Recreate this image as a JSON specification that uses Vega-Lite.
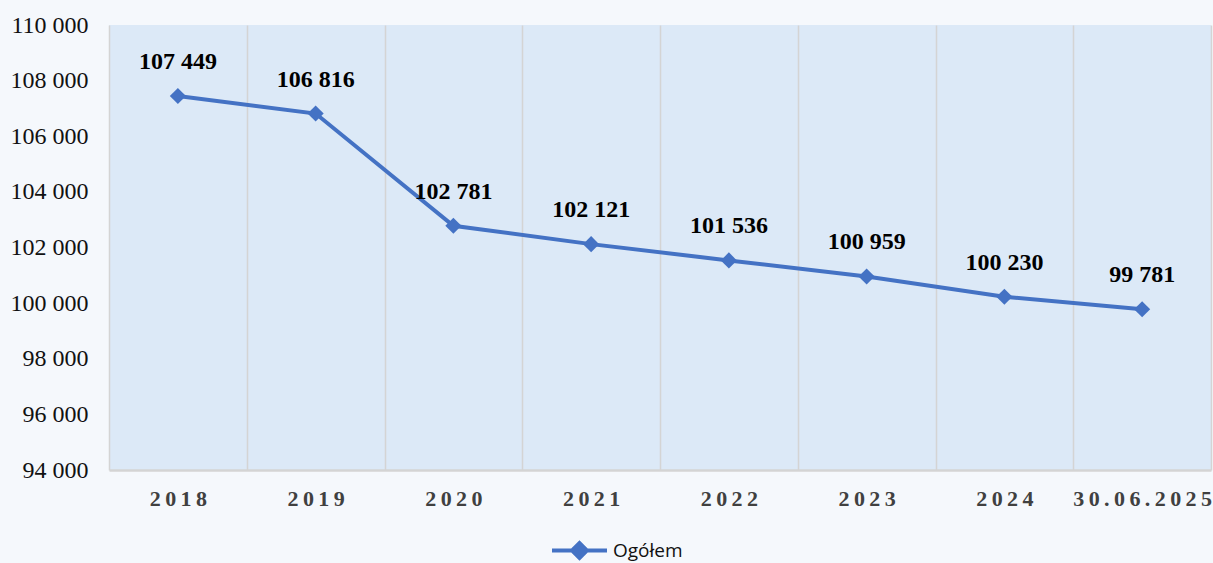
{
  "$schema": "https://vega.github.io/schema/vega-lite/v6.json",
  "width": 1102,
  "height": 445,
  "autosize": {"type": "none"},
  "padding": {"left": 109, "top": 25, "right": 2, "bottom": 93},
  "background": "#f5f8fc",
  "config": {
    "view": {"fill": "#dce9f7", "stroke": null},
    "locale": {"number": {"decimal": ",", "thousands": " ", "grouping": [3], "currency": ["", " zł"]}}
  },
  "data": {
    "values": [
      {"okres": "2018", "liczba": 107449, "seria": "Ogółem"},
      {"okres": "2019", "liczba": 106816, "seria": "Ogółem"},
      {"okres": "2020", "liczba": 102781, "seria": "Ogółem"},
      {"okres": "2021", "liczba": 102121, "seria": "Ogółem"},
      {"okres": "2022", "liczba": 101536, "seria": "Ogółem"},
      {"okres": "2023", "liczba": 100959, "seria": "Ogółem"},
      {"okres": "2024", "liczba": 100230, "seria": "Ogółem"},
      {"okres": "30.06.2025", "liczba": 99781, "seria": "Ogółem"}
    ]
  },
  "encoding": {
    "x": {
      "field": "okres",
      "type": "nominal",
      "sort": null,
      "bandPosition": 0.5,
      "scale": {"type": "band", "paddingInner": 0, "paddingOuter": 0},
      "axis": {
        "title": null,
        "tickBand": "extent",
        "grid": true,
        "gridColor": "#d4d4d4",
        "gridWidth": 1.5,
        "ticks": false,
        "domain": true,
        "domainColor": "#d4d4d4",
        "domainWidth": 2.5,
        "labelAngle": 0,
        "labelFont": "Liberation Serif",
        "labelFontSize": 22,
        "labelFontWeight": "bold",
        "labelColor": "#404040",
        "labelPadding": 18,
        "labelExpr": "join(split(datum.label, ''), '\u2009')"
      }
    },
    "y": {
      "field": "liczba",
      "type": "quantitative",
      "scale": {"domain": [94000, 110000], "nice": false, "zero": false},
      "axis": {
        "title": null,
        "values": [94000, 96000, 98000, 100000, 102000, 104000, 106000, 108000, 110000],
        "format": ",d",
        "grid": false,
        "ticks": false,
        "domain": false,
        "labelFont": "Liberation Serif",
        "labelFontSize": 24,
        "labelColor": "#111111",
        "labelPadding": 21
      }
    }
  },
  "layer": [
    {
      "mark": {"type": "line", "strokeWidth": 4, "point": {"shape": "diamond", "size": 260, "filled": true, "color": "#4472c4"}},
      "encoding": {
        "color": {
          "field": "seria",
          "type": "nominal",
          "scale": {"range": ["#4472c4"]},
          "legend": {
            "title": null,
            "orient": "none",
            "legendX": 441,
            "legendY": 496,
            "symbolType": "M-1,0L1,0M-0.27,0L0,-0.27L0.27,0L0,0.27Z",
            "symbolSize": 3025,
            "symbolStrokeWidth": 4,
            "symbolFillColor": "#4472c4",
            "symbolStrokeColor": "#4472c4",
            "symbolOpacity": 1,
            "labelFont": "Open Sans",
            "labelFontSize": 19,
            "labelColor": "#111111",
            "labelOffset": 4
          }
        }
      }
    },
    {
      "mark": {"type": "text", "dy": -34, "font": "Liberation Serif", "fontSize": 24, "fontWeight": "bold", "color": "#000000"},
      "encoding": {
        "text": {"field": "liczba", "type": "quantitative", "format": ",d"}
      }
    }
  ]
}
